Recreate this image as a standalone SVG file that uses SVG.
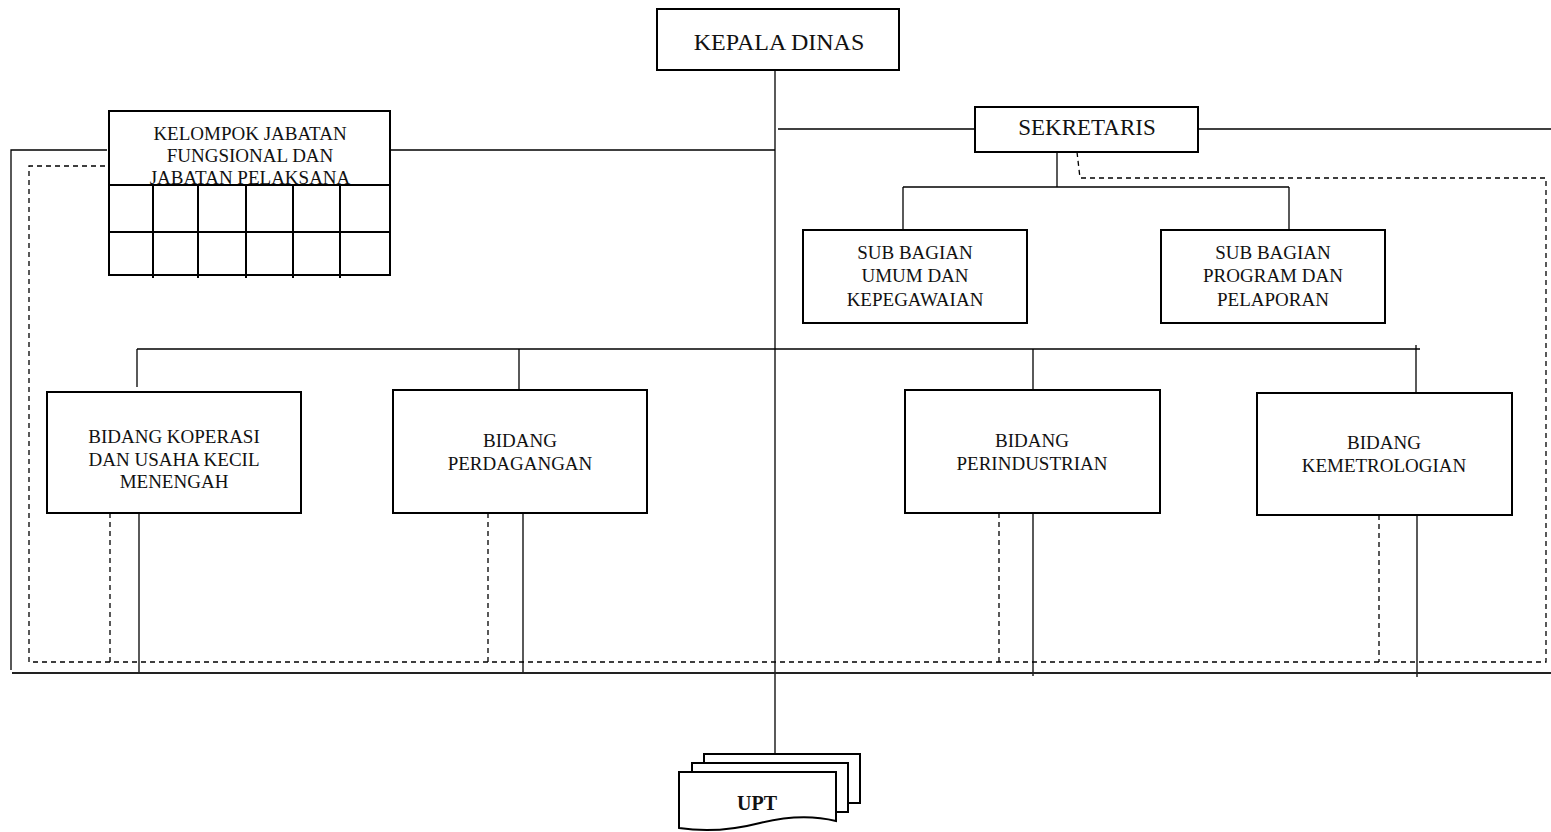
<svg xmlns="http://www.w3.org/2000/svg" width="1551" height="832" viewBox="0 0 1551 832">
  <style>
    .box { fill: #fff; stroke: #000; stroke-width: 2; }
    .ln { fill: none; stroke: #000; stroke-width: 1.3; }
    .lnb { fill: none; stroke: #222; stroke-width: 2; }
    .dash { fill: none; stroke: #000; stroke-width: 1.3; stroke-dasharray: 5 4; }
    .grid { fill: none; stroke: #000; stroke-width: 2; }
    text { font-family: "Liberation Serif", "DejaVu Serif", serif; fill: #111; text-anchor: middle; }
    .t { font-size: 19px; }
    .big { font-size: 24px; }
    .upt { font-size: 20px; font-weight: bold; }
  </style>

  <!-- connectors -->
  <g id="connectors">
    <!-- main spine -->
    <line class="ln" x1="775" y1="70" x2="775" y2="753"/>
    <!-- secretary links -->
    <line class="ln" x1="778" y1="129" x2="975" y2="129"/>
    <line class="ln" x1="1198" y1="129" x2="1551" y2="129"/>
    <line class="ln" x1="1057" y1="152" x2="1057" y2="187"/>
    <line class="ln" x1="903" y1="187" x2="1289" y2="187"/>
    <line class="ln" x1="903" y1="187" x2="903" y2="234"/>
    <line class="ln" x1="1289" y1="187" x2="1289" y2="234"/>
    <!-- functional group links -->
    <line class="ln" x1="390" y1="150" x2="775" y2="150"/>
    <polyline class="ln" points="107,150 11,150 11,670"/>
    <!-- division bus -->
    <line class="ln" x1="137" y1="349" x2="1420" y2="349"/>
    <line class="ln" x1="137" y1="349" x2="137" y2="387"/>
    <line class="ln" x1="519" y1="349" x2="519" y2="390"/>
    <line class="ln" x1="1033" y1="349" x2="1033" y2="390"/>
    <line class="ln" x1="1416" y1="345" x2="1416" y2="393"/>
    <!-- lines below divisions -->
    <line class="ln" x1="139" y1="513" x2="139" y2="673"/>
    <line class="ln" x1="523" y1="513" x2="523" y2="673"/>
    <line class="ln" x1="1033" y1="513" x2="1033" y2="676"/>
    <line class="ln" x1="1417" y1="515" x2="1417" y2="677"/>
    <line class="lnb" x1="12" y1="673" x2="1551" y2="673"/>
    <!-- coordination (dashed) -->
    <polyline class="dash" points="105,166 29,166 29,662 1546,662 1546,178 1080,178"/>
    <line class="dash" x1="1077" y1="152" x2="1080" y2="178"/>
    <line class="dash" x1="110" y1="513" x2="110" y2="662"/>
    <line class="dash" x1="488" y1="513" x2="488" y2="662"/>
    <line class="dash" x1="999" y1="513" x2="999" y2="662"/>
    <line class="dash" x1="1379" y1="515" x2="1379" y2="662"/>
  </g>

  <g id="kepala-dinas">
    <rect class="box" x="657" y="9" width="242" height="61"/>
    <text class="big" x="779" y="50">KEPALA DINAS</text>
  </g>

  <g id="sekretaris">
    <rect class="box" x="975" y="107" width="223" height="45"/>
    <text class="big" x="1087" y="135" style="font-size:23px">SEKRETARIS</text>
  </g>

  <g id="kelompok-jabatan">
    <rect class="box" x="109" y="111" width="281" height="164"/>
    <text class="t" x="250" y="140">KELOMPOK JABATAN</text>
    <text class="t" x="250" y="162">FUNGSIONAL DAN</text>
    <text class="t" x="250" y="184">JABATAN PELAKSANA</text>
    <line class="grid" x1="109" y1="185" x2="390" y2="185"/>
    <line class="grid" x1="109" y1="232" x2="390" y2="232"/>
    <line class="grid" x1="153" y1="185" x2="153" y2="278"/>
    <line class="grid" x1="198" y1="185" x2="198" y2="278"/>
    <line class="grid" x1="246" y1="185" x2="246" y2="278"/>
    <line class="grid" x1="293" y1="185" x2="293" y2="278"/>
    <line class="grid" x1="340" y1="185" x2="340" y2="278"/>
  </g>

  <g id="subbag-umum">
    <rect class="box" x="803" y="230" width="224" height="93"/>
    <text class="t" x="915" y="259">SUB BAGIAN</text>
    <text class="t" x="915" y="282">UMUM DAN</text>
    <text class="t" x="915" y="306">KEPEGAWAIAN</text>
  </g>

  <g id="subbag-program">
    <rect class="box" x="1161" y="230" width="224" height="93"/>
    <text class="t" x="1273" y="259">SUB BAGIAN</text>
    <text class="t" x="1273" y="282">PROGRAM DAN</text>
    <text class="t" x="1273" y="306">PELAPORAN</text>
  </g>

  <g id="bidang-koperasi">
    <rect class="box" x="47" y="392" width="254" height="121"/>
    <text class="t" x="174" y="443">BIDANG KOPERASI</text>
    <text class="t" x="174" y="466">DAN USAHA KECIL</text>
    <text class="t" x="174" y="488">MENENGAH</text>
  </g>

  <g id="bidang-perdagangan">
    <rect class="box" x="393" y="390" width="254" height="123"/>
    <text class="t" x="520" y="447">BIDANG</text>
    <text class="t" x="520" y="470">PERDAGANGAN</text>
  </g>

  <g id="bidang-perindustrian">
    <rect class="box" x="905" y="390" width="255" height="123"/>
    <text class="t" x="1032" y="447">BIDANG</text>
    <text class="t" x="1032" y="470">PERINDUSTRIAN</text>
  </g>

  <g id="bidang-kemetrologian">
    <rect class="box" x="1257" y="393" width="255" height="122"/>
    <text class="t" x="1384" y="449">BIDANG</text>
    <text class="t" x="1384" y="472">KEMETROLOGIAN</text>
  </g>

  <g id="upt">
    <rect class="box" x="704" y="754" width="156" height="49"/>
    <rect class="box" x="692" y="763" width="156" height="49"/>
    <path class="box" d="M679,772 H836 V821 C812,815 788,816 760,823 C733,830 705,832 679,828 Z"/>
    <text class="upt" x="757" y="810">UPT</text>
  </g>
</svg>
